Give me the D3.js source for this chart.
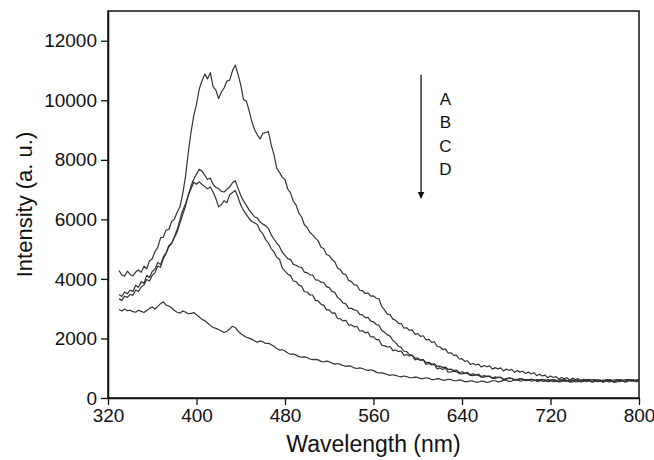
<!DOCTYPE html>
<html>
<head>
<meta charset="utf-8">
<script src="https://cdn.jsdelivr.net/npm/d3@7"></script>
<style>
  html, body { margin: 0; padding: 0; background: #fff; }
  svg { display: block; }
  text { font-family: "Liberation Sans", Arial, sans-serif; fill: #111; }
</style>
</head>
<body>
<svg id="chart" width="654" height="460"></svg>
<script>
// ---- data, wavelength in nm ----
const wavelengths = [
  330,332.5,335,337.5,340,342.5,345,347.5,350,352.5,
  355,357.5,360,362.5,365,367.5,370,372.5,375,377.5,
  380,382.5,385,387.5,390,392.5,395,397.5,400,402.5,
  405,407.5,410,412.5,415,417.5,420,422.5,425,427.5,
  430,432.5,435,437.5,440,442.5,445,447.5,450,452.5,
  455,457.5,460,462.5,465,467.5,470,472.5,475,477.5,
  480,482.5,485,487.5,490,492.5,495,497.5,500,502.5,
  505,507.5,510,512.5,515,517.5,520,522.5,525,527.5,
  530,532.5,535,537.5,540,542.5,545,547.5,550,552.5,
  555,557.5,560,562.5,565,567.5,570,572.5,575,577.5,
  580,582.5,585,587.5,590,592.5,595,597.5,600,602.5,
  605,607.5,610,612.5,615,617.5,620,622.5,625,627.5,
  630,632.5,635,637.5,640,642.5,645,647.5,650,652.5,
  655,657.5,660,662.5,665,667.5,670,672.5,675,677.5,
  680,682.5,685,687.5,690,692.5,695,697.5,700,702.5,
  705,707.5,710,712.5,715,717.5,720,722.5,725,727.5,
  730,732.5,735,737.5,740,742.5,745,747.5,750,752.5,
  755,757.5,760,762.5,765,767.5,770,772.5,775,777.5,
  780,782.5,785,787.5,790,792.5,795,797.5,800];

const seriesA = [
  4280,4130,4090,4260,4150,4100,4230,4300,4220,4430,
  4340,4600,4680,4920,5060,5380,5400,5640,5660,5930,
  6010,6240,6420,6850,7420,8230,8920,9480,9870,10380,
  10660,10880,10720,10930,10460,10340,10060,10280,10420,10650,
  10680,10990,11180,10880,10520,10020,9980,9660,9290,9010,
  8840,8700,8890,8920,8950,8510,8180,7720,7580,7420,
  7330,7020,6890,6610,6480,6210,6080,5820,5730,5560,
  5480,5370,5280,5070,5010,4820,4780,4650,4580,4370,
  4310,4170,4150,3950,3910,3800,3790,3620,3610,3510,
  3530,3420,3430,3350,3330,3070,2960,2820,2800,2650,
  2610,2510,2500,2350,2360,2270,2290,2140,2160,2070,
  2090,1950,1970,1870,1890,1730,1720,1630,1650,1510,
  1520,1430,1440,1310,1320,1230,1250,1130,1160,1110,
  1140,1040,1090,1050,1080,970,1020,980,1010,910,
  970,930,960,860,920,870,900,820,870,810,
  850,750,800,740,770,680,740,690,720,630,
  690,650,680,590,670,620,650,560,630,600,
  630,540,620,580,610,530,610,580,610,530,
  620,580,610,540,630,590,620,550,610];

const seriesB = [
  3480,3410,3560,3500,3620,3580,3790,3720,3900,3860,
  4120,4050,4250,4330,4550,4480,4740,4880,5120,5200,
  5390,5580,5880,6150,6440,6800,7120,7350,7520,7680,
  7620,7480,7340,7390,7170,7080,7030,6940,6920,7010,
  7090,7230,7300,7050,6800,6620,6480,6320,6200,6080,
  6050,5910,5840,5790,5700,5480,5340,5200,5090,4900,
  4790,4680,4650,4490,4460,4400,4390,4230,4210,4140,
  4130,3970,3960,3890,3880,3740,3710,3580,3550,3380,
  3310,3190,3160,3010,3010,2960,2940,2810,2790,2700,
  2710,2580,2560,2470,2440,2270,2210,2120,2080,1930,
  1860,1740,1700,1570,1560,1460,1440,1340,1340,1280,
  1290,1190,1200,1140,1150,1060,1070,1030,1040,960,
  970,920,940,850,880,830,860,780,810,770,
  800,720,750,720,740,670,710,680,700,630,
  650,670,650,620,630,640,620,600,610,630,
  600,580,610,630,590,560,600,620,580,560,
  600,620,580,550,590,620,570,550,600,620,
  570,540,590,610,560,550,600,620,560,540,
  590,620,570,550,600,610,560,580,620];

const seriesC = [
  3330,3280,3420,3380,3480,3450,3630,3580,3730,3800,
  3980,3930,4120,4210,4430,4390,4680,4850,5080,5190,
  5420,5650,5980,6300,6520,6800,7030,7250,7180,7260,
  7170,7100,7030,7090,6920,6700,6420,6500,6630,6560,
  6830,6900,6970,6750,6480,6300,6170,6030,5930,5880,
  5830,5620,5510,5320,5210,5020,4910,4730,4660,4370,
  4260,4160,4110,3930,3910,3790,3760,3570,3560,3460,
  3460,3280,3260,3150,3110,2960,2960,2850,2860,2670,
  2660,2590,2610,2450,2460,2390,2410,2250,2260,2190,
  2210,2050,2060,1960,1960,1770,1760,1710,1730,1590,
  1610,1560,1580,1430,1460,1410,1430,1280,1310,1260,
  1280,1130,1160,1110,1130,980,1010,960,1000,870,
  880,900,880,820,810,840,820,760,750,780,
  760,700,700,740,720,660,660,700,680,620,
  630,670,660,600,610,650,640,580,590,630,
  620,560,570,620,610,550,560,610,600,540,
  550,600,590,530,540,600,600,540,560,610,
  600,540,550,600,590,540,560,610,600,530,
  540,600,590,540,560,610,600,550,580];

const seriesD = [
  2970,2920,2990,2930,2950,2900,2880,2950,2910,2870,
  2940,3010,3060,2990,3080,3170,3230,3120,3090,3030,
  2940,2880,2850,2920,2890,2830,2840,2870,2800,2720,
  2640,2600,2520,2440,2370,2340,2300,2250,2200,2240,
  2320,2410,2370,2250,2160,2100,2040,2010,1970,1920,
  1870,1920,1890,1830,1840,1790,1740,1660,1610,1620,
  1580,1510,1470,1480,1440,1390,1370,1380,1360,1310,
  1290,1300,1280,1230,1210,1240,1220,1170,1140,1160,
  1130,1090,1060,1080,1060,1010,990,1010,990,950,
  930,950,920,870,840,850,820,790,760,780,
  760,730,710,740,720,680,680,700,690,650,
  650,680,660,620,620,650,640,600,600,630,
  620,580,580,610,590,550,550,580,570,530,
  530,570,560,520,540,580,580,540,560,600,
  600,560,570,610,610,570,580,620,620,570,
  580,620,610,560,570,620,600,550,560,610,
  610,560,570,620,600,540,550,610,600,550,
  570,620,610,550,560,600,590,540,560,610,
  600,550,570,620,610,560,580,610,600];

const seriesNames = ["A", "B", "C", "D"];
const xTicks = [320, 400, 480, 560, 640, 720, 800];
const yTicks = [0, 2000, 4000, 6000, 8000, 10000, 12000];
const xDomain = [320, 800];
const yDomain = [0, 13000];
// annotation (arrow + legend letters) in data units
const arrowX = 603, arrowTop = 10860, arrowBottom = 6720;
const letterX = 625;
const letterY = [10020, 9240, 8440, 7660];

// ---- layout ----
const svg = d3.select("#chart");
const mLeft = 108, mRight = 639, mTop = 11, mBottom = 398;

const x = d3.scaleLinear().domain(xDomain).range([mLeft, mRight]);
const y = d3.scaleLinear().domain(yDomain).range([mBottom, mTop]);

// frame
svg.append("rect")
  .attr("x", mLeft).attr("y", mTop)
  .attr("width", mRight - mLeft).attr("height", mBottom - mTop)
  .attr("fill", "none").attr("stroke", "#111").attr("stroke-width", 1.5);

// axes
const xAxis = svg.append("g")
  .attr("transform", `translate(0,${mBottom})`)
  .call(d3.axisBottom(x).tickValues(xTicks).tickSize(7).tickSizeOuter(0).tickPadding(4).tickFormat(d3.format("d")));
const yAxis = svg.append("g")
  .attr("transform", `translate(${mLeft},0)`)
  .call(d3.axisLeft(y).tickValues(yTicks).tickSize(7).tickSizeOuter(0).tickPadding(4).tickFormat(d3.format("d")));

[xAxis, yAxis].forEach(g => {
  g.select(".domain").attr("stroke", "#111").attr("stroke-width", 1.5);
  g.selectAll(".tick line").attr("stroke", "#111").attr("stroke-width", 1.3);
  g.selectAll(".tick text")
    .attr("fill", "#111")
    .style("font-family", '"Liberation Sans", Arial, sans-serif')
    .style("font-size", "19px");
});

// axis titles
svg.append("text")
  .attr("x", (mLeft + mRight) / 2).attr("y", 452)
  .attr("text-anchor", "middle")
  .style("font-size", "23px")
  .text("Wavelength (nm)");

svg.append("text")
  .attr("transform", `translate(32,${(mTop + mBottom) / 2}) rotate(-90)`)
  .attr("text-anchor", "middle")
  .style("font-size", "22px")
  .text("Intensity (a. u.)");

// curves
const line = d3.line()
  .x((d, i) => x(wavelengths[i]))
  .y(d => y(d));

[seriesA, seriesB, seriesC, seriesD].forEach(s => {
  if (s.length !== wavelengths.length) console.warn("length mismatch", s.length, wavelengths.length);
  svg.append("path")
    .datum(s)
    .attr("d", line)
    .attr("fill", "none")
    .attr("stroke", "#333")
    .attr("stroke-width", 1.2)
    .attr("stroke-linejoin", "round");
});

// arrow
svg.append("defs").append("marker")
  .attr("id", "arrowhead")
  .attr("viewBox", "0 0 10 10")
  .attr("refX", 9).attr("refY", 5)
  .attr("markerWidth", 7).attr("markerHeight", 9)
  .attr("markerUnits", "userSpaceOnUse")
  .attr("orient", "auto")
  .append("path").attr("d", "M0,0 L10,5 L0,10 Z").attr("fill", "#111");

svg.append("line")
  .attr("x1", x(arrowX)).attr("x2", x(arrowX))
  .attr("y1", y(arrowTop)).attr("y2", y(arrowBottom))
  .attr("stroke", "#111").attr("stroke-width", 1.3)
  .attr("marker-end", "url(#arrowhead)");

svg.selectAll(".lbl")
  .data(seriesNames)
  .enter().append("text")
  .attr("class", "lbl")
  .attr("x", x(letterX)).attr("y", (d, i) => y(letterY[i]))
  .attr("text-anchor", "middle")
  .attr("dominant-baseline", "central")
  .style("font-size", "17px")
  .text(d => d);
</script>
</body>
</html>
